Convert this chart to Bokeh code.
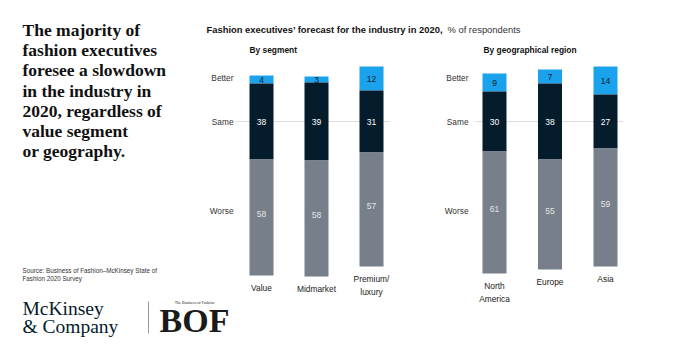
from bokeh.plotting import figure
from bokeh.models import Range1d, ColumnDataSource
from bokeh.core.properties import value
from bokeh.embed import file_html
from bokeh.resources import INLINE

# ---------------- data ----------------
segments = ["Value", "Midmarket", "Premium/\nluxury"]
seg_better = [4, 3, 12]
seg_same = [38, 39, 31]
seg_worse = [58, 58, 57]

regions = ["North\nAmerica", "Europe", "Asia"]
reg_better = [9, 7, 14]
reg_same = [30, 38, 27]
reg_worse = [61, 55, 59]

row_labels = ["Better", "Same", "Worse"]

title_lines = ["The majority of", "fashion executives", "foresee a slowdown",
               "in the industry in", "2020, regardless of", "value segment",
               "or geography."]
source_lines = ["Source: Business of Fashion\u2013McKinsey State of",
                "Fashion 2020 Survey"]

# ---------------- styles ----------------
BLUE = "#1aa3ec"
NAVY = "#051c2c"
GREY = "#767f8a"
SANS = "Liberation Sans"
SERIF = "Liberation Serif"

p = figure(width=680, height=355, x_range=Range1d(0, 680),
           y_range=Range1d(-117, 60.5), output_backend="svg",
           toolbar_location=None, min_border=0,
           x_axis_location=None, y_axis_location=None)
p.grid.visible = False
p.outline_line_color = None
p.background_fill_color = "white"
p.border_fill_color = "white"
p.extra_y_ranges = {"px": Range1d(355, 0)}


def txt(x, y, t, size, font=SANS, color="#222222", style="normal",
        align="left", baseline="middle", yr="px", lh=1.2):
    p.text(x=[x], y=[y], text=[t], text_font=value(font),
           text_font_size=size, text_color=color, text_font_style=style,
           text_align=align, text_baseline=baseline, y_range_name=yr,
           text_line_height=lh)


def panel(cats, better, same, worse, x0, step, label_x, gx0, gx1):
    n = len(cats)
    xs = [x0 + step * i for i in range(n)]
    same_top = [s / 2 for s in same]
    same_bot = [-s / 2 for s in same]
    better_top = [s / 2 + b for s, b in zip(same, better)]
    worse_bot = [-s / 2 - w for s, w in zip(same, worse)]
    src = ColumnDataSource(dict(
        x=xs, cat=cats,
        better=[str(v) for v in better], same=[str(v) for v in same],
        worse=[str(v) for v in worse],
        same_top=same_top, same_bot=same_bot, better_top=better_top,
        worse_bot=worse_bot,
        better_mid=[(a + b) / 2 for a, b in zip(same_top, better_top)],
        worse_mid=[(a + b) / 2 + 2 for a, b in zip(same_bot, worse_bot)],
        cat_y=[w - 3.5 for w in worse_bot],
    ))
    # "Same" reference line
    p.segment(x0=[gx0], y0=[0], x1=[gx1], y1=[0], line_color="#dcdcdc",
              line_width=1)
    p.vbar(x="x", width=24, bottom="same_top", top="better_top",
           fill_color=BLUE, line_color=None, source=src)
    p.vbar(x="x", width=24, bottom="same_bot", top="same_top",
           fill_color=NAVY, line_color=None, source=src)
    p.vbar(x="x", width=24, bottom="worse_bot", top="same_bot",
           fill_color=GREY, line_color=None, source=src)
    common = dict(source=src, text_font=value(SANS), text_font_size="8.5px",
                  text_align="center", text_baseline="middle")
    p.text(x="x", y="better_mid", text="better", text_color=NAVY, **common)
    p.text(x="x", y=0, text="same", text_color="white", **common)
    p.text(x="x", y="worse_mid", text="worse", text_color="#e4e6e8", **common)
    p.text(x="x", y="cat_y", text="cat", source=src, text_font=value(SANS),
           text_font_size="8.4px", text_align="center", text_baseline="top",
           text_color="#222222", text_line_height=1.3)
    # row labels
    for lab, yy in zip(row_labels, [22, 0, -44.5]):
        txt(label_x, yy, lab, "8.3px", color="#333333", align="right",
            yr="default")


panel(segments, seg_better, seg_same, seg_worse, 261, 55, 233, 235, 390)
panel(regions, reg_better, reg_same, reg_worse, 494, 55.5, 468, 475, 623)

# headers
txt(206, 29, "Fashion executives\u2019 forecast for the industry in 2020,",
    "9.4px", color="#111111", style="bold")
txt(447, 29, "% of respondents", "9.4px", color="#333333")
txt(249, 49, "By segment", "8.4px", color="#111111", style="bold")
txt(483, 49, "By geographical region", "8.4px", color="#111111", style="bold")

# left title
for i, line in enumerate(title_lines):
    txt(22, 29.5 + 20.2 * i, line, "17.5px", font=SERIF, color="#111111",
        style="bold")

for i, line in enumerate(source_lines):
    txt(22, 270 + 8 * i, line, "6.3px", color="#333333")

# logos
txt(22, 308, "McKinsey", "19.5px", font=SERIF, color=NAVY)
txt(22, 326, "& Company", "19.5px", font=SERIF, color=NAVY)
p.segment(x0=[148], y0=[301], x1=[148], y1=[333], line_color="#999999",
          line_width=1, y_range_name="px")
txt(194, 302, "The Business of Fashion", "4px", font=SERIF, color="#222222",
    align="center")
txt(194, 320, "BOF", "34px", font=SERIF, color="#1a1a1a", style="bold",
    align="center")

open("out.html", "w").write(file_html(p, INLINE))
